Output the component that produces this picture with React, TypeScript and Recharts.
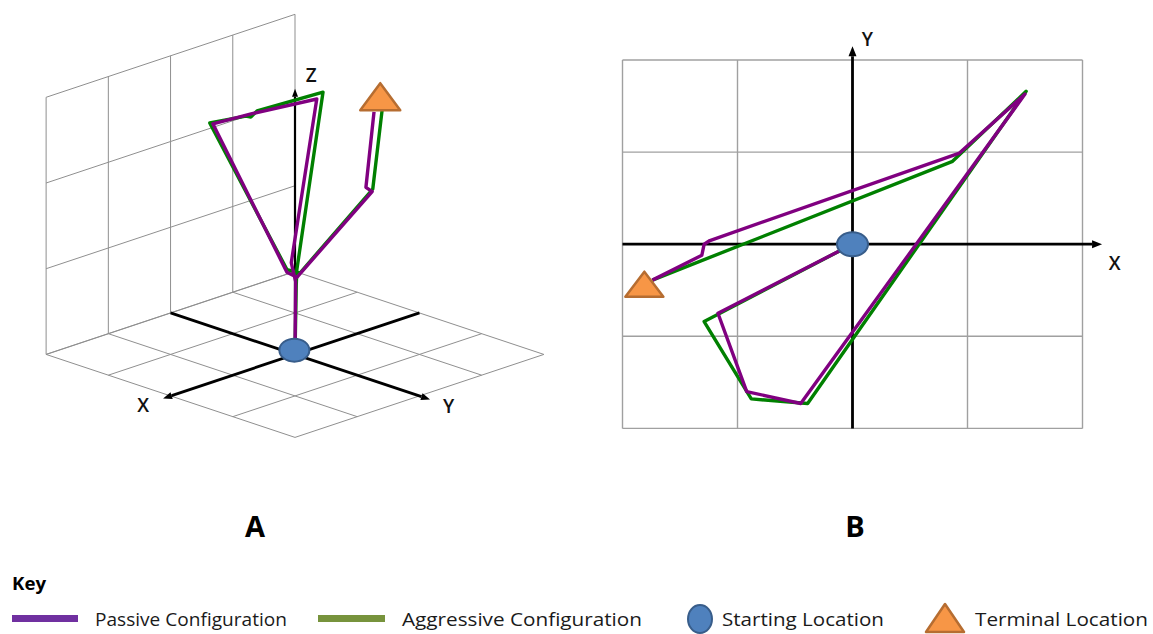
import React from 'react';
import { ScatterChart, Scatter, XAxis, YAxis, ReferenceLine } from 'recharts';

const FONT = "'Open Sans', 'DejaVu Sans', sans-serif";
const PURPLE = '#800080';
const GREEN = '#008000';
const KEY_PURPLE = '#7030A0';
const KEY_GREEN = '#77933C';
const BLUE = '#4F81BD';
const BLUE_EDGE = '#385D8A';
const ORANGE = '#F79646';
const ORANGE_EDGE = '#B66D31';
const INK = '#111111';

// ---------- Panel A (perspective view): vertices in view units (u across, v up) ----------
const passivePathA = [
  { u: 0, v: 0 }, { u: 0.01, v: 0.85 }, { u: -0.06, v: 1.07 }, { u: 0.35, v: 2.98 },
  { u: -0.69, v: 2.81 }, { u: -1.32, v: 2.69 }, { u: -0.13, v: 0.96 }, { u: 0.03, v: 0.9 },
  { u: 1.24, v: 1.9 }, { u: 1.14, v: 1.95 }, { u: 1.27, v: 2.83 },
];
const aggressivePathA = [
  { u: 0, v: 0 }, { u: 0.02, v: 0.81 }, { u: 0.03, v: 0.99 }, { u: 0.45, v: 3.06 },
  { u: -0.61, v: 2.84 }, { u: -0.71, v: 2.77 }, { u: -0.79, v: 2.78 }, { u: -1.37, v: 2.7 },
  { u: -0.13, v: 0.99 }, { u: 0.08, v: 0.95 }, { u: 1.25, v: 1.93 }, { u: 1.4, v: 2.85 },
];
const startA = [{ u: -0.01, v: 0.05 }];
const terminalA = [{ u: 1.37, v: 2.85 }];

// ---------- Panel B (top view X-Y) ----------
const passivePathB = [
  { x: 0, y: 0 }, { x: -1.17, y: -0.75 }, { x: -0.92, y: -1.6 }, { x: -0.45, y: -1.73 },
  { x: 1.5, y: 1.63 }, { x: 0.93, y: 0.99 }, { x: -1.24, y: 0.04 }, { x: -1.29, y: 0.0 },
  { x: -1.31, y: -0.12 }, { x: -1.74, y: -0.39 },
];
const aggressivePathB = [
  { x: 0, y: 0 }, { x: -1.29, y: -0.84 }, { x: -0.88, y: -1.68 }, { x: -0.39, y: -1.73 },
  { x: 1.51, y: 1.66 }, { x: 0.87, y: 0.9 }, { x: -1.74, y: -0.39 },
];
const startB = [{ x: 0, y: 0 }];
const terminalB = [{ x: -1.81, y: -0.57 }];

// ---------- grid / labels ----------
const gridTicks = [-2, -1, 0, 1, 2];
const wallTicks = [0, 1, 2, 3];
const panelTitles = ['A', 'B'];
const keyTitle = 'Key';
const keyLabels = ['Passive Configuration', 'Aggressive Configuration', 'Starting Location', 'Terminal Location'];

// perspective projection of the 3D frame of panel A
const DEPTH = 0.242;
const proj = (x: number, y: number, z: number) => ({ u: y - x, v: z - DEPTH * (x + y) });

type P = { u: number; v: number };
const segA: [P, P][] = [];
gridTicks.forEach((k) => {
  segA.push([proj(k, -2, 0), proj(k, 2, 0)]);
  segA.push([proj(-2, k, 0), proj(2, k, 0)]);
  segA.push([proj(k, -2, 0), proj(k, -2, 3)]);
});
wallTicks.forEach((h) => segA.push([proj(-2, -2, h), proj(2, -2, h)]));

const axesA: [P, P][] = [
  [proj(-2, 0, 0), proj(2.12, 0, 0)],
  [proj(0, -2, 0), proj(0, 2.17, 0)],
  [proj(0, 0, 0), proj(0, 0, 3.1)],
];
const axisLabelsA = [
  { ...proj(2.44, 0, 0), text: 'X' },
  { ...proj(0, 2.47, 0), text: 'Y' },
  { u: 0.26, v: 3.26, text: 'Z' },
];
const axisLabelsB = [
  { x: 0.13, y: 2.23, text: 'Y' },
  { x: 2.28, y: -0.2, text: 'X' },
];

const makeArrow = (color: string, width: number, head: number, half: number) => (p: any) => {
  const { x1, y1, x2, y2 } = p;
  const ang = Math.atan2(y2 - y1, x2 - x1);
  const bx = x2 - head * Math.cos(ang);
  const by = y2 - head * Math.sin(ang);
  const nx = -Math.sin(ang) * half;
  const ny = Math.cos(ang) * half;
  return (
    <g>
      <line x1={x1} y1={y1} x2={bx} y2={by} stroke={color} strokeWidth={width} />
      <polygon points={`${x2},${y2} ${bx + nx},${by + ny} ${bx - nx},${by - ny}`} fill={color} />
    </g>
  );
};

const noMarker = () => <g />;
const ellipseShape = (rx: number, ry: number) => (p: any) => (
  <ellipse cx={p.cx} cy={p.cy} rx={rx} ry={ry} fill={BLUE} stroke={BLUE_EDGE} strokeWidth={2} />
);
const triangleShape = (w: number, h: number) => (p: any) => (
  <polygon
    points={`${p.cx - w / 2},${p.cy} ${p.cx + w / 2},${p.cy} ${p.cx},${p.cy - h}`}
    fill={ORANGE}
    stroke={ORANGE_EDGE}
    strokeWidth={2.5}
    strokeLinejoin="round"
  />
);
const letterShape = (p: any) => (
  <text
    x={p.cx}
    y={p.cy}
    textAnchor="middle"
    dominantBaseline="central"
    fontFamily={FONT}
    fontSize={19}
    fontWeight={600}
    fill={INK}
  >
    {p.payload.text}
  </text>
);

const pathLine = (color: string) => ({ stroke: color, strokeWidth: 3.4, strokeLinejoin: 'round' as const });

function PanelA() {
  return (
    <div style={{ position: 'absolute', left: 15, top: 3 }}>
      <ScatterChart width={560} height={480} margin={{ top: 0, right: 0, bottom: 0, left: 0 }}>
        <XAxis type="number" dataKey="u" domain={[-4.5, 4.5]} hide allowDataOverflow />
        <YAxis type="number" dataKey="v" domain={[-1.5, 4.1]} hide allowDataOverflow />
        {segA.map((s, i) => (
          <ReferenceLine
            key={`ga${i}`}
            segment={[{ x: s[0].u, y: s[0].v }, { x: s[1].u, y: s[1].v }]}
            stroke="#8f8f8f"
            strokeWidth={1}
            ifOverflow="visible"
          />
        ))}
        {axesA.slice(0, 2).map((s, i) => (
          <ReferenceLine
            key={`aa${i}`}
            segment={[{ x: s[0].u, y: s[0].v }, { x: s[1].u, y: s[1].v }]}
            ifOverflow="visible"
            shape={makeArrow('#000', 2.8, 9, 3.5)}
          />
        ))}
        <Scatter data={aggressivePathA} line={pathLine(GREEN)} lineType="joint" shape={noMarker} isAnimationActive={false} />
        <Scatter data={passivePathA} line={pathLine(PURPLE)} lineType="joint" shape={noMarker} isAnimationActive={false} />
        <ReferenceLine
          segment={[{ x: axesA[2][0].u, y: axesA[2][0].v }, { x: axesA[2][1].u, y: axesA[2][1].v }]}
          ifOverflow="visible"
          shape={makeArrow('#000', 2.2, 8, 3)}
        />
        <Scatter data={startA} shape={ellipseShape(15, 11.5)} isAnimationActive={false} />
        <Scatter data={terminalA} shape={triangleShape(40, 27)} isAnimationActive={false} />
        <Scatter data={axisLabelsA} shape={letterShape} isAnimationActive={false} />
      </ScatterChart>
    </div>
  );
}

function PanelB() {
  return (
    <div style={{ position: 'absolute', left: 588, top: 14 }}>
      <ScatterChart width={552} height={442} margin={{ top: 0, right: 0, bottom: 0, left: 0 }}>
        <XAxis type="number" dataKey="x" domain={[-2.3, 2.5]} hide allowDataOverflow />
        <YAxis type="number" dataKey="y" domain={[-2.3, 2.5]} hide allowDataOverflow />
        {gridTicks.map((k) => (
          <ReferenceLine
            key={`gv${k}`}
            segment={[{ x: k, y: -2 }, { x: k, y: 2 }]}
            stroke="#a0a0a0"
            strokeWidth={1.4}
            ifOverflow="visible"
          />
        ))}
        {gridTicks.map((k) => (
          <ReferenceLine
            key={`gh${k}`}
            segment={[{ x: -2, y: k }, { x: 2, y: k }]}
            stroke="#a0a0a0"
            strokeWidth={1.4}
            ifOverflow="visible"
          />
        ))}
        <Scatter data={aggressivePathB} line={pathLine(GREEN)} lineType="joint" shape={noMarker} isAnimationActive={false} />
        <Scatter data={passivePathB} line={pathLine(PURPLE)} lineType="joint" shape={noMarker} isAnimationActive={false} />
        <ReferenceLine
          segment={[{ x: -2, y: 0 }, { x: 2.17, y: 0 }]}
          ifOverflow="visible"
          shape={makeArrow('#000', 2.8, 10, 4)}
        />
        <ReferenceLine
          segment={[{ x: 0, y: -2 }, { x: 0, y: 2.15 }]}
          ifOverflow="visible"
          shape={makeArrow('#000', 2.8, 10, 4)}
        />
        <Scatter data={startB} shape={ellipseShape(15.5, 12)} isAnimationActive={false} />
        <Scatter data={terminalB} shape={triangleShape(38, 25)} isAnimationActive={false} />
        <Scatter data={axisLabelsB} shape={letterShape} isAnimationActive={false} />
      </ScatterChart>
    </div>
  );
}

function Key() {
  const textProps = { fontFamily: FONT, fontSize: 19, fill: '#1a1a1a', lengthAdjust: 'spacingAndGlyphs' as const };
  return (
    <svg width={1153} height={634} style={{ position: 'absolute', left: 0, top: 0, pointerEvents: 'none' }}>
      <text x={255} y={537} textAnchor="middle" fontFamily={FONT} fontSize={29} fontWeight={700} fill="#000">
        {panelTitles[0]}
      </text>
      <text x={855} y={537} textAnchor="middle" fontFamily={FONT} fontSize={29} fontWeight={700} fill="#000">
        {panelTitles[1]}
      </text>
      <text x={12} y={590} fontFamily={FONT} fontSize={18} fontWeight={700} fill="#000" textLength={34} lengthAdjust="spacingAndGlyphs">
        {keyTitle}
      </text>
      <rect x={12} y={615} width={66} height={7} fill={KEY_PURPLE} />
      <text x={95} y={626} textLength={192} {...textProps}>{keyLabels[0]}</text>
      <rect x={318} y={615} width={67} height={7} fill={KEY_GREEN} />
      <text x={402} y={626} textLength={240} {...textProps}>{keyLabels[1]}</text>
      <ellipse cx={700} cy={619} rx={12} ry={14} fill={BLUE} stroke={BLUE_EDGE} strokeWidth={2} />
      <text x={722} y={626} textLength={162} {...textProps}>{keyLabels[2]}</text>
      <polygon points="926,632 964,632 945,604" fill={ORANGE} stroke={ORANGE_EDGE} strokeWidth={2.5} strokeLinejoin="round" />
      <text x={975} y={626} textLength={173} {...textProps}>{keyLabels[3]}</text>
    </svg>
  );
}

export default function App() {
  return (
    <div style={{ position: 'absolute', left: 0, top: 0, width: 1153, height: 634, background: '#fff', overflow: 'hidden' }}>
      <PanelA />
      <PanelB />
      <Key />
    </div>
  );
}
